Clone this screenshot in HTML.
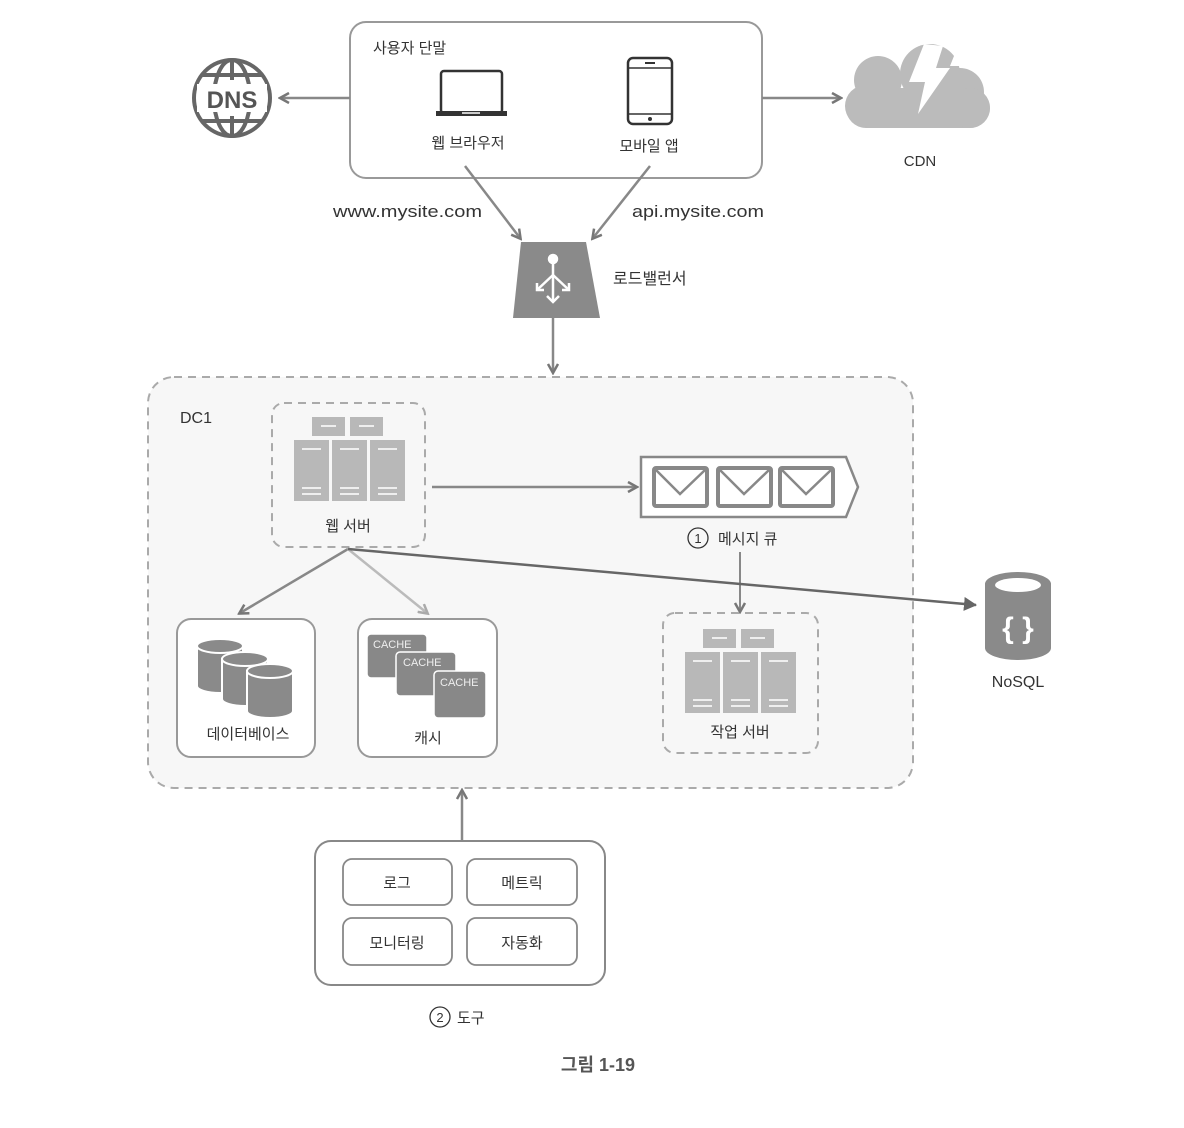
<!DOCTYPE html>
<html><head><meta charset="utf-8"><style>
html,body{margin:0;padding:0;background:#fff;}
svg{display:block;}
text{font-family:"Liberation Sans","Noto Sans CJK KR",sans-serif;fill:#333;}
</style></head><body>
<svg width="1184" height="1128" viewBox="0 0 1184 1128" xmlns="http://www.w3.org/2000/svg">
<defs>
<marker id="ah" markerWidth="12" markerHeight="12" refX="9" refY="6" orient="auto" markerUnits="userSpaceOnUse">
<path d="M1,1 L10,6 L1,11" fill="none" stroke="#777" stroke-width="2.5"/>
</marker>
<marker id="ahl" markerWidth="12" markerHeight="12" refX="9" refY="6" orient="auto" markerUnits="userSpaceOnUse">
<path d="M1,1 L10,6 L1,11" fill="none" stroke="#aaa" stroke-width="2.5"/>
</marker>
<marker id="ahd" markerWidth="14" markerHeight="14" refX="12" refY="7" orient="auto" markerUnits="userSpaceOnUse">
<path d="M0,0 L13,7 L0,14 Z" fill="#666"/>
</marker>
<g id="srv">
<rect x="18" y="0" width="33" height="19" fill="#b8b8b8"/>
<rect x="56" y="0" width="33" height="19" fill="#b8b8b8"/>
<rect x="27" y="8" width="15" height="2" fill="#eee"/><rect x="65" y="8" width="15" height="2" fill="#eee"/>
<rect x="0" y="23" width="35" height="61" fill="#b8b8b8"/>
<rect x="38" y="23" width="35" height="61" fill="#b8b8b8"/>
<rect x="76" y="23" width="35" height="61" fill="#b8b8b8"/>
<g fill="#eee">
<rect x="8" y="31" width="19" height="2"/><rect x="46" y="31" width="19" height="2"/><rect x="84" y="31" width="19" height="2"/>
<rect x="8" y="70" width="19" height="2"/><rect x="46" y="70" width="19" height="2"/><rect x="84" y="70" width="19" height="2"/>
<rect x="8" y="76" width="19" height="2"/><rect x="46" y="76" width="19" height="2"/><rect x="84" y="76" width="19" height="2"/>
</g>
</g>
</defs>

<!-- user devices -->
<rect x="350" y="22" width="412" height="156" rx="16" fill="#fff" stroke="#999" stroke-width="2"/>
<text x="373" y="53" font-size="15">사용자 단말</text>
<rect x="441" y="71" width="61" height="42" rx="3" fill="none" stroke="#333" stroke-width="2.5"/>
<rect x="436" y="111" width="71" height="5" fill="#333"/><rect x="462" y="112" width="18" height="2" fill="#ccc"/>
<text x="468" y="148" font-size="15" text-anchor="middle">웹 브라우저</text>
<rect x="628" y="58" width="44" height="66" rx="5" fill="none" stroke="#333" stroke-width="2.5"/>
<line x1="628" y1="68" x2="672" y2="68" stroke="#333" stroke-width="1.5"/><line x1="628" y1="114" x2="672" y2="114" stroke="#333" stroke-width="1.5"/>
<rect x="645" y="62" width="10" height="2" fill="#333"/><circle cx="650" cy="119" r="2" fill="#333"/>
<text x="649" y="151" font-size="15" text-anchor="middle">모바일 앱</text>

<!-- DNS -->
<g stroke="#666" fill="none" stroke-width="4">
<circle cx="232" cy="98" r="38"/>
<ellipse cx="232" cy="98" rx="18" ry="38"/>
<line x1="232" y1="60" x2="232" y2="80"/><line x1="232" y1="116" x2="232" y2="136"/>
<line x1="202" y1="75" x2="262" y2="75"/><line x1="202" y1="121" x2="262" y2="121"/>
</g>
<rect x="197" y="84" width="70" height="28" fill="#fff"/>
<text x="232" y="108" font-size="24" font-weight="bold" text-anchor="middle" style="fill:#555">DNS</text>
<line x1="350" y1="98" x2="281" y2="98" stroke="#888" stroke-width="2.5" marker-end="url(#ah)"/>
<line x1="762" y1="98" x2="840" y2="98" stroke="#888" stroke-width="2.5" marker-end="url(#ah)"/>

<!-- CDN cloud -->
<g fill="#bbb">
<circle cx="878" cy="80" r="24"/><circle cx="930" cy="74" r="30"/><circle cx="960" cy="92" r="24"/>
<rect x="846" y="88" width="144" height="40" rx="20"/>
<circle cx="866" cy="106" r="21"/><circle cx="970" cy="108" r="20"/>
</g>
<path d="M924,44 L909,82 L925,82 L918,114 L950,68 L936,68 L943,46 Z" fill="#fff"/>
<path d="M958,46 L950,66 L970,66 Z" fill="#fff"/>
<text x="920" y="166" font-size="15" text-anchor="middle">CDN</text>

<!-- to LB -->
<line x1="465" y1="166" x2="520" y2="238" stroke="#888" stroke-width="2.5" marker-end="url(#ah)"/>
<line x1="650" y1="166" x2="593" y2="238" stroke="#888" stroke-width="2.5" marker-end="url(#ah)"/>
<text x="333" y="217" font-size="17" textLength="149" lengthAdjust="spacingAndGlyphs">www.mysite.com</text>
<text x="632" y="217" font-size="17" textLength="132" lengthAdjust="spacingAndGlyphs">api.mysite.com</text>
<path d="M521,242 L586,242 L600,318 L513,318 Z" fill="#8a8a8a"/>
<g stroke="#fff" stroke-width="2.5" fill="none">
<circle cx="553" cy="259" r="4" fill="#fff"/>
<line x1="553" y1="263" x2="553" y2="302"/>
<line x1="553" y1="275" x2="537" y2="290"/><line x1="553" y1="275" x2="569" y2="290"/>
<path d="M537,283 L537,290 L544,290"/><path d="M569,283 L569,290 L562,290"/>
<path d="M547,296 L553,302 L559,296"/>
</g>
<text x="613" y="284" font-size="16">로드밸런서</text>
<line x1="553" y1="318" x2="553" y2="372" stroke="#888" stroke-width="2.5" marker-end="url(#ah)"/>

<!-- DC1 -->
<rect x="148" y="377" width="765" height="411" rx="26" fill="#f7f7f7" stroke="#aaa" stroke-width="2" stroke-dasharray="8,6"/>
<text x="180" y="423" font-size="16">DC1</text>
<rect x="272" y="403" width="153" height="144" rx="12" fill="none" stroke="#aaa" stroke-width="2" stroke-dasharray="8,6"/>
<use href="#srv" x="294" y="417"/>
<text x="348" y="531" font-size="15" text-anchor="middle">웹 서버</text>
<line x1="432" y1="487" x2="636" y2="487" stroke="#888" stroke-width="2.5" marker-end="url(#ah)"/>

<!-- queue -->
<path d="M641,457 L846,457 L858,487 L846,517 L641,517 Z" fill="#fff" stroke="#888" stroke-width="2.5"/>
<g fill="#fff" stroke="#888" stroke-width="4">
<rect x="654" y="468" width="53" height="38" rx="2"/><rect x="718" y="468" width="53" height="38" rx="2"/><rect x="780" y="468" width="53" height="38" rx="2"/>
</g>
<g fill="none" stroke="#888" stroke-width="2.5">
<path d="M656,470 L680,494 L705,470"/><path d="M720,470 L744,494 L769,470"/><path d="M782,470 L806,494 L831,470"/>
</g>
<circle cx="698" cy="538" r="10" fill="none" stroke="#333" stroke-width="1.3"/>
<text x="698" y="543" font-size="13" text-anchor="middle">1</text>
<text x="718" y="544" font-size="15">메시지 큐</text>
<line x1="740" y1="552" x2="740" y2="611" stroke="#888" stroke-width="2" marker-end="url(#ah)"/>

<!-- worker -->
<rect x="663" y="613" width="155" height="140" rx="12" fill="none" stroke="#aaa" stroke-width="2" stroke-dasharray="8,6"/>
<use href="#srv" x="685" y="629"/>
<text x="740" y="737" font-size="15" text-anchor="middle">작업 서버</text>

<!-- lines from web server -->
<line x1="348" y1="549" x2="240" y2="613" stroke="#888" stroke-width="2.5" marker-end="url(#ah)"/>
<line x1="348" y1="549" x2="427" y2="613" stroke="#bbb" stroke-width="2.5" marker-end="url(#ahl)"/>
<line x1="348" y1="549" x2="976" y2="605" stroke="#666" stroke-width="2.5" marker-end="url(#ahd)"/>

<!-- DB -->
<rect x="177" y="619" width="138" height="138" rx="14" fill="#fff" stroke="#999" stroke-width="2"/>
<g fill="#8a8a8a" stroke="#fff" stroke-width="2">
<path d="M197,646 L197,686 A23,7 0 0 0 243,686 L243,646 Z"/><ellipse cx="220" cy="646" rx="23" ry="7"/>
<path d="M222,659 L222,699 A23,7 0 0 0 268,699 L268,659 Z"/><ellipse cx="245" cy="659" rx="23" ry="7"/>
<path d="M247,671 L247,711 A23,7 0 0 0 293,711 L293,671 Z"/><ellipse cx="270" cy="671" rx="23" ry="7"/>
</g>
<text x="248" y="739" font-size="15" text-anchor="middle">데이터베이스</text>

<!-- cache -->
<rect x="358" y="619" width="139" height="138" rx="14" fill="#fff" stroke="#999" stroke-width="2"/>
<g fill="#888" stroke="#fff" stroke-width="1.5">
<rect x="367" y="634" width="60" height="44" rx="4"/>
<rect x="396" y="652" width="60" height="44" rx="4"/>
<rect x="434" y="671" width="52" height="47" rx="4"/>
</g>
<text x="373" y="648" font-size="11" style="fill:#eee">CACHE</text>
<text x="403" y="666" font-size="11" style="fill:#eee">CACHE</text>
<text x="440" y="686" font-size="11" style="fill:#eee">CACHE</text>
<text x="428" y="743" font-size="15" text-anchor="middle">캐시</text>

<!-- NoSQL -->
<path d="M985,584 L985,648 A33,12 0 0 0 1051,648 L1051,584 Z" fill="#8a8a8a"/>
<ellipse cx="1018" cy="584" rx="33" ry="12" fill="#8a8a8a"/>
<ellipse cx="1018" cy="585" rx="23" ry="7" fill="#fff"/>
<text x="1018" y="638" font-size="30" font-weight="bold" text-anchor="middle" style="fill:#fff">{ }</text>
<text x="1018" y="687" font-size="16" text-anchor="middle">NoSQL</text>

<!-- tools -->
<line x1="462" y1="840" x2="462" y2="791" stroke="#888" stroke-width="2.5" marker-end="url(#ah)"/>
<rect x="315" y="841" width="290" height="144" rx="16" fill="#fff" stroke="#888" stroke-width="2"/>
<g fill="#fff" stroke="#888" stroke-width="1.8">
<rect x="343" y="859" width="109" height="46" rx="9"/><rect x="467" y="859" width="110" height="46" rx="9"/>
<rect x="343" y="918" width="109" height="47" rx="9"/><rect x="467" y="918" width="110" height="47" rx="9"/>
</g>
<text x="397" y="888" font-size="15" text-anchor="middle">로그</text>
<text x="522" y="888" font-size="15" text-anchor="middle">메트릭</text>
<text x="397" y="948" font-size="15" text-anchor="middle">모니터링</text>
<text x="522" y="948" font-size="15" text-anchor="middle">자동화</text>
<circle cx="440" cy="1017" r="10" fill="none" stroke="#333" stroke-width="1.3"/>
<text x="440" y="1022" font-size="13" text-anchor="middle">2</text>
<text x="457" y="1023" font-size="15">도구</text>
<text x="598" y="1071" font-size="18" font-weight="bold" text-anchor="middle" style="fill:#555">그림 1-19</text>
</svg>
</body></html>
